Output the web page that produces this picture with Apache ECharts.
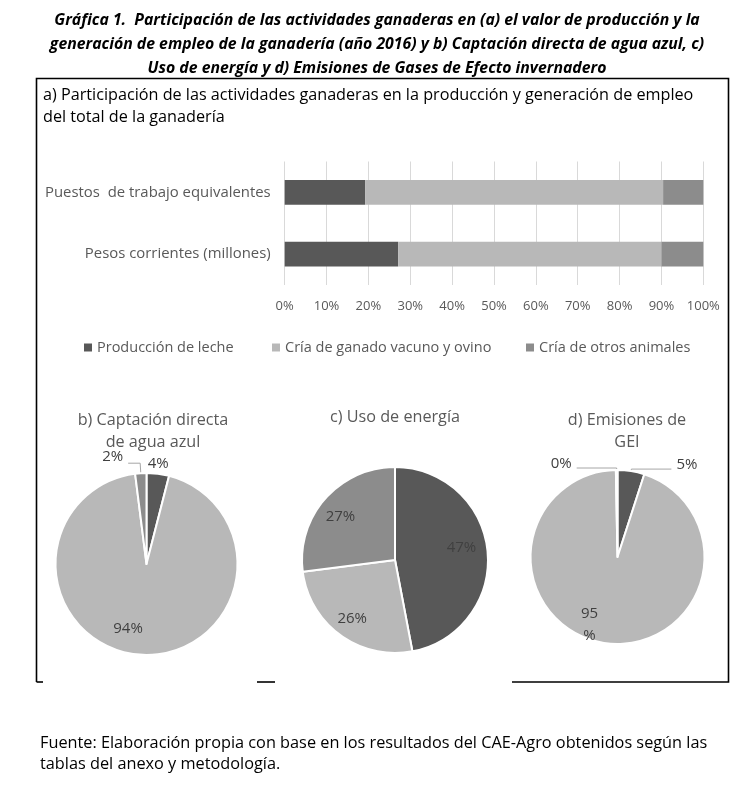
<!DOCTYPE html>
<html>
<head>
<meta charset="utf-8">
<script src="https://cdn.jsdelivr.net/npm/echarts@6/dist/echarts.min.js"></script>
<style>
html,body{margin:0;padding:0;background:#fff;}
#chart{width:743px;height:785px;}
</style>
</head>
<body>
<div id="chart"></div>
<script>
// ---- data ----
const barCategories = ['Pesos corrientes (millones)', 'Puestos  de trabajo equivalentes'];
const seriesNames = ['Producción de leche', 'Cría de ganado vacuno y ovino', 'Cría de otros animales'];
const lecheShare = [27.1, 19.2];
const vacunoShare = [62.9, 71.2];
const otrosShare = [10.0, 9.6];
const xTicks = [0, 10, 20, 30, 40, 50, 60, 70, 80, 90, 100];

const aguaValues = [4, 94, 2];
const energiaValues = [47, 26, 27];
const geiValues = [5, 95, 0.3];

const mainTitle = 'Gráfica 1.  Participación de las actividades ganaderas en (a) el valor de producción y la\ngeneración de empleo de la ganadería (año 2016) y b) Captación directa de agua azul, c)\nUso de energía y d) Emisiones de Gases de Efecto invernadero';
const barTitle = 'a) Participación de las actividades ganaderas en la producción y generación de empleo\ndel total de la ganadería';
const pieTitles = ['b) Captación directa\nde agua azul', 'c) Uso de energía', 'd) Emisiones de\nGEI'];
const sourceText = 'Fuente: Elaboración propia con base en los resultados del CAE-Agro obtenidos según las\ntablas del anexo y metodología.';

// ---- style ----
const FONT = 'Open Sans';
const colors = ['#585858', '#b8b8b8', '#8c8c8c'];
const labelColor = '#404040';

const chart = echarts.init(document.getElementById('chart'), null, {renderer: 'canvas'});

function pieData(values, names, opts) {
  return values.map((v, i) => Object.assign({value: v, name: names[i], itemStyle: {color: colors[i]}}, (opts && opts[i]) || {}));
}

function pieBase(center, r) {
  return {
    type: 'pie', center: center, radius: [0, r], startAngle: 90, clockwise: true,
    avoidLabelOverlap: false, silent: true,
    itemStyle: {borderColor: '#fff', borderWidth: 2},
    emphasis: {disabled: true},
    label: {fontFamily: FONT, fontSize: 15, color: labelColor},
    labelLine: {lineStyle: {color: '#a6a6a6', width: 1}}
  };
}

function overlayRing(center, r, values, insideIdx, fmt, shifts) {
  return {
    type: 'pie', center: center, radius: [r * 0.5, r], startAngle: 90, clockwise: true,
    avoidLabelOverlap: false, silent: true, z: 5,
    itemStyle: {color: 'rgba(0,0,0,0)', borderWidth: 0},
    emphasis: {disabled: true},
    labelLine: {show: false},
    label: {position: 'inside', fontFamily: FONT, fontSize: 15, color: labelColor, lineHeight: 22,
      formatter: fmt || (p => Math.round(p.value) + '%')},
    labelLayout: function (p) { return (shifts && shifts[p.dataIndex]) || {}; },
    data: values.map((v, i) => ({value: v, name: seriesNames[i], label: {show: insideIdx.indexOf(i) >= 0}}))
  };
}

const cB = [146.5, 564], rB = 91;
const cC = [395, 560], rC = 93;
const cD = [617.5, 557], rD = 87;

const pieB = Object.assign(pieBase(cB, rB), {
  data: pieData(aguaValues, seriesNames, [
    {label: {show: true, position: 'outside', formatter: p => Math.round(p.value) + '%'}, labelLine: {show: false, length: 2, length2: 0}},
    {label: {show: false}},
    {label: {show: true, position: 'outside', formatter: p => Math.round(p.value) + '%'}, labelLine: {show: true, length: 10, length2: 12}}
  ]),
  labelLayout: function (p) {
    if (p.dataIndex === 0) return {align: 'center', dx: -5, dy: -8};
    if (p.dataIndex === 2) return {dy: -6};
    return {};
  }
});
const ringB = overlayRing(cB, rB, aguaValues, [1], null, {1: {dx: -14, dy: -6}});

const pieC = Object.assign(pieBase(cC, rC), {
  data: pieData(energiaValues, seriesNames, [{label: {show: false}}, {label: {show: false}}, {label: {show: false}}])
});
const ringC = overlayRing(cC, rC, energiaValues, [0, 1, 2], null, {0: {dx: -6, dy: -5}, 2: {dy: 5}});

const pieD = Object.assign(pieBase(cD, rD), {
  data: pieData(geiValues, seriesNames, [
    {label: {show: true, position: 'outside', formatter: p => Math.round(p.value) + '%'}, labelLine: {show: true, length: 2, length2: 40}},
    {label: {show: false}},
    {label: {show: true, position: 'outside', formatter: p => Math.round(p.value) + '%'}, labelLine: {show: true, length: 2, length2: 40}}
  ]),
  labelLayout: function (p) {
    if (p.dataIndex === 0 || p.dataIndex === 2) return {dy: -4};
    return {};
  }
});
const ringD = overlayRing(cD, rD, geiValues, [1], p => Math.round(p.value) + '\n%', {1: {dx: -18, dy: 0}});

const barSeries = [lecheShare, vacunoShare, otrosShare].map((vals, i) => ({
  type: 'bar', name: seriesNames[i], stack: 'total', data: vals,
  barWidth: '40%', itemStyle: {color: colors[i]}, silent: true,
  emphasis: {disabled: true}
}));

const frame = {type: 'group', children: [
  {type: 'polyline', shape: {points: [[36.5, 682], [36.5, 78.5], [728.5, 78.5], [728.5, 682], [512, 682]]}, style: {stroke: '#000', lineWidth: 1.6, fill: null}},
  {type: 'line', shape: {x1: 36.5, y1: 682, x2: 43, y2: 682}, style: {stroke: '#000', lineWidth: 1.6}},
  {type: 'line', shape: {x1: 257, y1: 682, x2: 275, y2: 682}, style: {stroke: '#000', lineWidth: 1.6}}
]};

const legendText = {fontFamily: FONT, fontSize: 14.5, color: '#595959'};
const legendLefts = [84, 272, 526];

const option = {
  backgroundColor: '#fff',
  animation: false,
  title: [
    {text: mainTitle, left: 372, top: 3, textAlign: 'center',
      textStyle: {fontFamily: FONT, fontSize: 15.8, fontWeight: 'bold', fontStyle: 'italic', color: '#000', lineHeight: 24}},
    {text: barTitle, left: 38, top: 79,
      textStyle: {fontFamily: FONT, fontSize: 16.2, fontWeight: 'normal', color: '#000', lineHeight: 22}},
    {text: pieTitles[0], left: 148, top: 404, textAlign: 'center',
      textStyle: {fontFamily: FONT, fontSize: 16.2, fontWeight: 'normal', color: '#595959', lineHeight: 22}},
    {text: pieTitles[1], left: 390, top: 401, textAlign: 'center',
      textStyle: {fontFamily: FONT, fontSize: 16.2, fontWeight: 'normal', color: '#595959', lineHeight: 22}},
    {text: pieTitles[2], left: 622, top: 404, textAlign: 'center',
      textStyle: {fontFamily: FONT, fontSize: 16.2, fontWeight: 'normal', color: '#595959', lineHeight: 22}},
    {text: sourceText, left: 35, top: 728,
      textStyle: {fontFamily: FONT, fontSize: 16.3, fontWeight: 'normal', color: '#000', lineHeight: 21}}
  ],
  legend: seriesNames.map((n, i) => ({
    left: legendLefts[i], top: 340, icon: 'rect', itemWidth: 8, itemHeight: 8,
    selectedMode: false, data: [n], padding: 0,
    textStyle: legendText
  })),
  grid: {left: 284.7, right: 39.7, top: 161.5, height: 123.5, containLabel: false},
  xAxis: {
    type: 'value', min: xTicks[0], max: xTicks[xTicks.length - 1], interval: 10,
    axisLine: {show: false}, axisTick: {show: false},
    splitLine: {show: true, lineStyle: {color: '#d9d9d9', width: 1}},
    axisLabel: {formatter: '{value}%', fontFamily: FONT, fontSize: 13, color: '#595959', margin: 15}
  },
  yAxis: {
    type: 'category', data: barCategories,
    axisLine: {show: false}, axisTick: {show: false},
    axisLabel: {fontFamily: FONT, fontSize: 14.9, color: '#595959', margin: 14}
  },
  series: barSeries.concat([pieB, ringB, pieC, ringC, pieD, ringD]),
  graphic: [frame]
};

chart.setOption(option);
</script>
</body>
</html>
